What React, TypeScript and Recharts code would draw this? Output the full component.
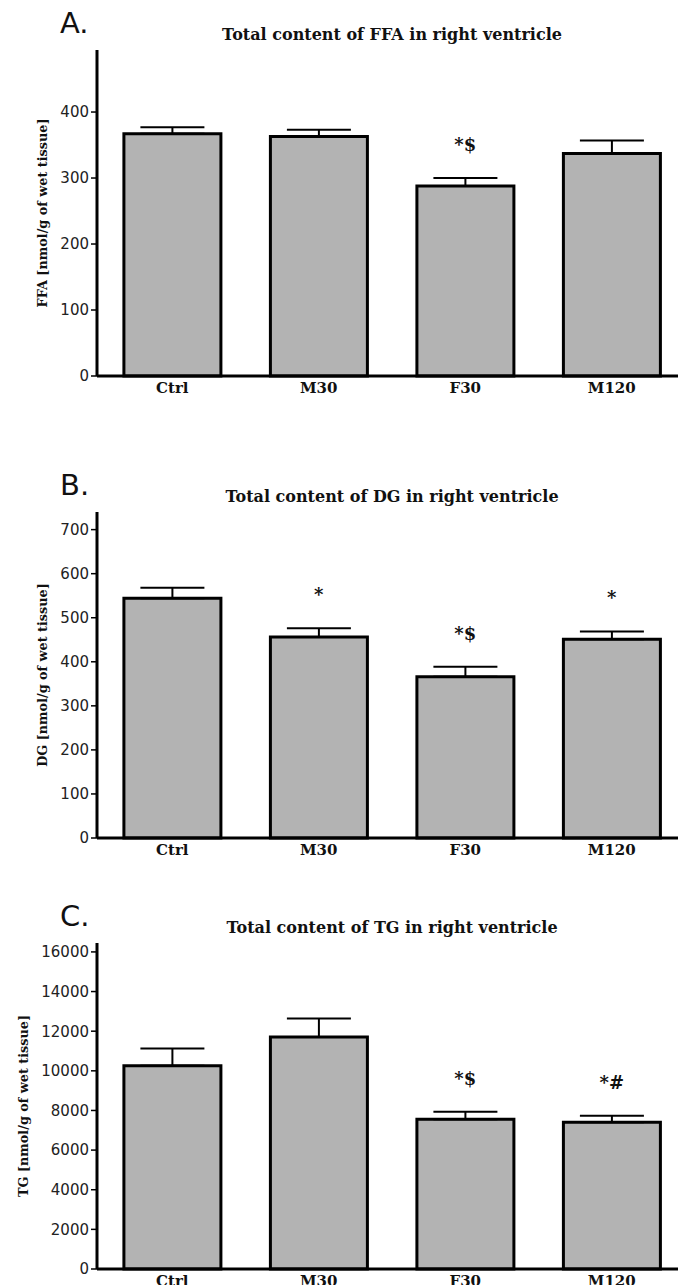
import React from "react";
import { Bar, ComposedChart, ErrorBar, Line, XAxis, YAxis } from "recharts";

const groups = ["Ctrl", "M30", "F30", "M120"];

const ffaMean = [367, 363, 288, 337];
const ffaSem = [10, 10, 12, 20];
const ffaMarks = ["", "", "*$", ""];

const dgMean = [544, 456, 366, 451];
const dgSem = [24, 20, 23, 18];
const dgMarks = ["", "*", "*$", "*"];

const tgMean = [10250, 11710, 7560, 7410];
const tgSem = [880, 930, 370, 320];
const tgMarks = ["", "", "*$", "*#"];

const ffaTicks = [0, 100, 200, 300, 400];
const dgTicks = [0, 100, 200, 300, 400, 500, 600, 700];
const tgTicks = [0, 2000, 4000, 6000, 8000, 10000, 12000, 14000, 16000];

const SERIF = "'DejaVu Serif', serif";
const SANS = "'DejaVu Sans', sans-serif";

type Panel = {
  letter: string;
  title: string;
  yLabel: string;
  mean: number[];
  sem: number[];
  marks: string[];
  ticks: number[];
  yMax: number;
  top: number;
  labelX: number;
};

const panels: Panel[] = [
  {
    letter: "A.",
    title: "Total content of FFA in right ventricle",
    yLabel: "FFA [nmol/g of wet tissue]",
    mean: ffaMean,
    sem: ffaSem,
    marks: ffaMarks,
    ticks: ffaTicks,
    yMax: 494,
    top: 0,
    labelX: 42,
  },
  {
    letter: "B.",
    title: "Total content of DG in right ventricle",
    yLabel: "DG [nmol/g of wet tissue]",
    mean: dgMean,
    sem: dgSem,
    marks: dgMarks,
    ticks: dgTicks,
    yMax: 740,
    top: 462,
    labelX: 42,
  },
  {
    letter: "C.",
    title: "Total content of TG in right ventricle",
    yLabel: "TG [nmol/g of wet tissue]",
    mean: tgMean,
    sem: tgSem,
    marks: tgMarks,
    ticks: tgTicks,
    yMax: 16450,
    top: 893,
    labelX: 23,
  },
];

function YLabel({ viewBox, value, cxOffset }: any) {
  const cx = viewBox.x + cxOffset;
  const cy = viewBox.y + viewBox.height / 2;
  return (
    <text
      x={cx}
      y={cy}
      transform={`rotate(-90 ${cx} ${cy})`}
      textAnchor="middle"
      dominantBaseline="central"
      fontFamily={SERIF}
      fontWeight="bold"
      fontSize={12.8}
      fill="#111"
    >
      {value}
    </text>
  );
}

function PanelChart({ panel }: { panel: Panel }) {
  const data = groups.map((name, i) => ({
    name,
    mean: panel.mean[i],
    err: [0, panel.sem[i]],
    top: panel.mean[i] + panel.sem[i],
    mark: panel.marks[i],
  }));

  const renderMark = (props: any) => {
    const { x, y, index } = props;
    const mark = data[index]?.mark;
    if (!mark) return null;
    return (
      <text
        key={`m-${index}`}
        x={x}
        y={y - 27}
        textAnchor="middle"
        fontFamily={SERIF}
        fontWeight="bold"
        fontSize={18}
        fill="#111"
      >
        {mark}
      </text>
    );
  };

  return (
    <div style={{ position: "absolute", left: 0, top: panel.top, width: 690, height: 400 }}>
      <div
        style={{
          position: "absolute",
          left: 60,
          top: 6,
          fontFamily: SANS,
          fontSize: 29,
          color: "#111",
          lineHeight: "34px",
        }}
      >
        {panel.letter}
      </div>
      <div
        style={{
          position: "absolute",
          left: 92,
          width: 600,
          top: 25,
          textAlign: "center",
          fontFamily: SERIF,
          fontWeight: "bold",
          fontSize: 16,
          color: "#111",
          lineHeight: "20px",
          whiteSpace: "nowrap",
        }}
      >
        {panel.title}
      </div>
      <ComposedChart
        width={690}
        height={400}
        data={data}
        margin={{ top: 50, right: 5, bottom: 0, left: 0 }}
        barCategoryGap="17%"
      >
        <XAxis
          dataKey="name"
          padding={{ left: 2, right: 0 }}
          axisLine={{ stroke: "#000", strokeWidth: 3 }}
          tickLine={false}
          tickSize={4}
          height={24}
          tick={{ fontFamily: SERIF, fontWeight: "bold", fontSize: 15, fill: "#111" }}
        />
        <YAxis
          width={97}
          domain={[0, panel.yMax]}
          ticks={panel.ticks}
          interval={0}
          axisLine={{ stroke: "#000", strokeWidth: 3 }}
          tickLine={{ stroke: "#000", strokeWidth: 1.5 }}
          tickSize={6}
          tick={{ fontFamily: SANS, fontSize: 15, fill: "#222" }}
          label={<YLabel value={panel.yLabel} cxOffset={panel.labelX} />}
        />
        <Bar
          dataKey="mean"
          fill="#b3b3b3"
          stroke="#000"
          strokeWidth={3}
          isAnimationActive={false}
        >
          <ErrorBar dataKey="err" width={32} stroke="#000" strokeWidth={2} direction="y" />
        </Bar>
        <Line
          dataKey="top"
          stroke="none"
          dot={false}
          activeDot={false}
          label={renderMark}
          isAnimationActive={false}
        />
      </ComposedChart>
    </div>
  );
}

export default function App() {
  return (
    <div
      style={{
        position: "fixed",
        left: 0,
        top: 0,
        width: 678,
        height: 1285,
        overflow: "hidden",
        background: "#fff",
      }}
    >
      {panels.map((p) => (
        <PanelChart key={p.letter} panel={p} />
      ))}
    </div>
  );
}
